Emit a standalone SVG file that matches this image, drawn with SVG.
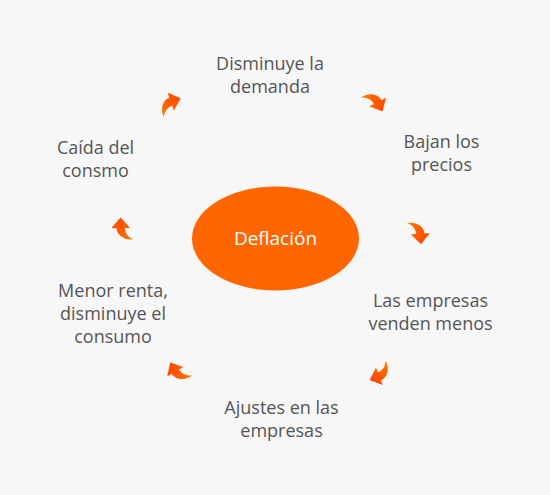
<svg xmlns="http://www.w3.org/2000/svg" xmlns:xlink="http://www.w3.org/1999/xlink" width="550" height="495" viewBox="0 0 550 495">
<style>
.lbl{font-family:"Open Sans","Noto Sans",sans-serif;font-size:18px;fill:#555;text-anchor:middle}
.ctr{font-family:"Open Sans","Noto Sans",sans-serif;font-size:19px;fill:#fff;text-anchor:middle}
</style>
<defs>
<linearGradient id="g" x1="0" y1="1" x2="1" y2="0">
<stop offset="0" stop-color="#ff7a00"/>
<stop offset="1" stop-color="#ff3c00"/>
</linearGradient>
<path id="arr" d="M-10,7 C-11,-3 -5,-9 1,-9 L1,-14 L11,-5 L1,4 L1,-1 C-4,-1 -8,2 -10,7 Z" fill="url(#g)"/>
</defs>
<rect width="550" height="495" fill="#f7f7f7"/>
<g id="connectors">
<use xlink:href="#arr" transform="translate(171.5,107) rotate(-19) scale(1.05)"/>
<use xlink:href="#arr" transform="translate(372.5,103.5) rotate(63) scale(1.05)"/>
<use xlink:href="#arr" transform="translate(415,233) rotate(86) scale(1.05)"/>
<use xlink:href="#arr" transform="translate(378.5,371) rotate(159) scale(1.05)"/>
<use xlink:href="#arr" transform="translate(180.5,370) rotate(240) scale(1.05)"/>
<use xlink:href="#arr" transform="translate(126,229) rotate(269) scale(1.05)"/>
</g>
<g id="center">
<ellipse cx="275.5" cy="238.5" rx="83.5" ry="52" fill="#ff6600"/>
<text class="ctr" x="275.5" y="245">Deflación</text>
</g>
<g id="n1"><text class="lbl" x="270" y="70">Disminuye la</text><text class="lbl" x="270" y="93">demanda</text></g>
<g id="n2"><text class="lbl" x="441.5" y="148">Bajan los</text><text class="lbl" x="441.5" y="171">precios</text></g>
<g id="n3"><text class="lbl" x="430.5" y="307">Las empresas</text><text class="lbl" x="430.5" y="330">venden menos</text></g>
<g id="n4"><text class="lbl" x="281.5" y="414">Ajustes en las</text><text class="lbl" x="281.5" y="437">empresas</text></g>
<g id="n5"><text class="lbl" x="113" y="297">Menor renta,</text><text class="lbl" x="113" y="320">disminuye el</text><text class="lbl" x="113" y="343">consumo</text></g>
<g id="n6"><text class="lbl" x="95.5" y="154">Caída del</text><text class="lbl" x="95.5" y="177">consmo</text></g>
</svg>
